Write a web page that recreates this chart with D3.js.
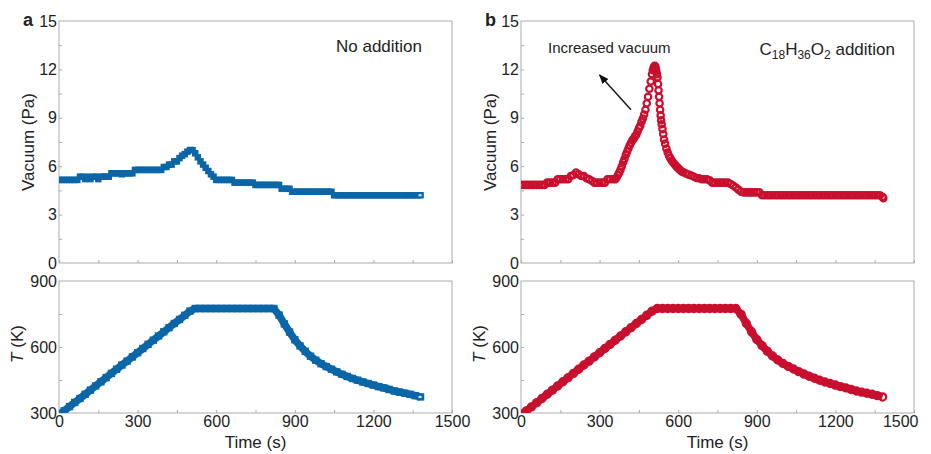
<!DOCTYPE html>
<html><head><meta charset="utf-8">
<script src="https://cdn.jsdelivr.net/npm/d3@7"></script>
<style>body{margin:0;background:#fff} text{font-family:Arial,"Liberation Sans",sans-serif;fill:#222}</style>
</head><body><svg id="c" width="931" height="454"></svg>
<script>
// ---- data ----
const vacTimeA = [0,10,20,30,40,50,60,70,80,90,100,110,120,130,140,150,160,170,180,190,200,210,220,230,240,250,260,270,280,290,300,310,320,330,340,350,360,370,380,390,400,410,420,430,440,450,460,470,480,490,500,510,520,530,540,550,560,570,580,590,600,610,620,630,640,650,660,670,680,690,700,710,720,730,740,750,760,770,780,790,800,810,820,830,840,850,860,870,880,890,900,910,920,930,940,950,960,970,980,990,1000,1010,1020,1030,1040,1050,1060,1070,1080,1090,1100,1110,1120,1130,1140,1150,1160,1170,1180,1190,1200,1210,1220,1230,1240,1250,1260,1270,1280,1290,1300,1310,1320,1330,1340,1350,1360,1370,1380];
const vacA = [5.15,5.15,5.15,5.15,5.15,5.15,5.15,5.15,
  5.35,5.35,5.2,5.35,5.2,5.35,5.35,5.2,5.35,5.35,5.35,5.35,
  5.56,5.56,5.56,5.56,5.5,5.56,5.56,5.56,5.56,
  5.77,5.77,5.77,5.77,5.77,5.77,5.77,5.77,5.77,5.77,5.77,
  5.95,5.95,6.1,6.1,6.3,6.3,6.5,6.65,6.75,6.9,7.0,7.0,6.8,6.55,6.3,6.1,5.9,5.7,5.5,5.35,
  5.15,5.15,5.15,5.15,5.15,5.15,5.15,
  4.98,4.98,4.98,4.98,4.98,4.98,4.98,4.98,
  4.84,4.84,4.84,4.84,4.84,4.84,4.84,4.84,4.84,4.84,
  4.6,4.6,4.6,4.6,
  4.42,4.42,4.42,4.42,4.42,4.42,4.42,4.42,4.42,4.42,4.42,4.42,4.42,4.42,4.42,4.42,
  4.2,4.2,4.2,4.2,4.2,4.2,4.2,4.2,4.2,4.2,4.2,4.2,4.2,4.2,4.2,4.2,4.2,4.2,4.2,4.2,4.2,4.2,4.2,4.2,4.2,4.2,4.2,4.2,4.2,4.2,4.2,4.2,4.2,4.2];

const vacTimeB = [0,10,20,30,40,50,60,70,80,90,100,110,120,130,140,150,160,170,180,190,200,210,220,230,240,250,260,270,280,290,300,310,320,330,340,350,
  360,365,370,375,380,385,390,395,400,405,410,415,420,425,430,435,440,445,450,455,460,465,470,475,480,485,490,495,
  500,503,506,509,511,513,515,517,519,521,523,525,527,529,531,533,535,537,540,543,546,550,555,560,565,570,575,580,585,590,595,600,605,610,615,620,
  630,640,650,660,670,680,690,700,710,720,730,740,750,760,770,780,790,800,810,820,830,840,850,860,870,880,890,900,910,920,930,940,950,960,970,980,990,1000,1010,1020,1030,1040,1050,1060,1070,1080,1090,1100,1110,1120,1130,1140,1150,1160,1170,1180,1190,1200,1210,1220,1230,1240,1250,1260,1270,1280,1290,1300,1310,1320,1330,1340,1350,1360,1370,1380,1383];
const vacB = [4.84,4.84,4.84,4.84,4.84,4.84,4.84,4.84,4.84,4.84,
  4.98,4.98,4.98,4.98,
  5.19,5.19,5.19,5.19,5.19,
  5.39,5.45,5.6,5.5,5.39,5.39,5.25,5.19,5.1,
  4.98,4.98,4.98,4.98,4.98,
  5.19,5.19,5.19,
  5.19,5.3,5.45,5.6,5.8,6.0,6.25,6.45,6.7,6.9,7.1,7.3,7.45,7.6,7.7,7.85,7.95,8.15,8.35,8.5,8.75,8.95,9.2,9.5,9.9,10.3,10.8,11.25,
  11.7,11.95,12.1,12.2,12.22,12.15,12.0,11.85,11.7,11.5,11.1,10.7,10.3,9.9,9.5,9.15,8.85,8.6,8.3,8.0,7.65,7.4,7.1,6.85,6.65,6.5,6.35,6.25,6.15,6.05,5.95,5.88,5.8,5.72,5.66,5.62,
  5.55,5.48,5.42,5.35,5.27,5.25,5.19,5.19,5.19,5.12,
  4.98,4.98,4.98,4.98,4.98,4.98,4.98,
  4.9,4.8,4.68,4.55,4.42,
  4.38,4.38,4.38,4.38,4.38,4.38,4.38,
  4.2,4.2,4.2,4.2,4.2,4.2,4.2,4.2,4.2,4.2,4.2,4.2,4.2,4.2,4.2,4.2,4.2,4.2,4.2,4.2,4.2,4.2,4.2,4.2,4.2,4.2,4.2,4.2,4.2,4.2,4.2,4.2,4.2,4.2,4.2,4.2,4.2,4.2,4.2,4.2,4.2,4.2,4.2,4.2,4.2,4.2,
  4.1,4.02];

const tempTime = [0,20,40,60,80,100,120,140,160,180,200,220,240,260,280,300,320,340,360,380,400,420,440,460,480,500,520,540,560,580,600,620,640,660,680,700,720,740,760,780,800,820,840,860,880,900,920,940,960,980,1000,1020,1040,1060,1080,1100,1120,1140,1160,1180,1200,1220,1240,1260,1280,1300,1320,1340,1360,1380];
const tempA = [295,310,329,348,366,385,404,423,442,461,480,499,518,536,555,574,593,612,631,650,669,688,707,725,744,763,775,
  775,775,775,775,775,775,775,775,775,775,775,775,775,775,775,
  745,705,668,633,605,580,558,540,524,511,499,487,476,466,457,449,441,434,427,420,414,407,400,395,390,385,379,373];
const tempB = [294,309,328,347,366,385,404,423,442,461,480,499,518,536,555,574,593,612,631,650,669,688,707,725,744,763,775,
  775,775,775,775,775,775,775,775,775,775,775,775,775,775,775,
  748,707,669,634,606,581,559,541,525,512,500,488,477,467,458,449,441,434,427,420,414,407,400,395,390,385,379,373];

const timeTicks = [0,300,600,900,1200,1500];
const timeMinor = [0,150,300,450,600,750,900,1050,1200,1350,1500];
const vacTicks = [0,3,6,9,12,15];
const vacMinor = [1.5,3,4.5,6,7.5,9,10.5,12,13.5];
const tempTicks = [300,600,900];
const tempMinor = [450,600,750];
const arrowFrom = [420, 9.5], arrowTo = [300, 11.65];

// ---- drawing ----
const svg = d3.select("#c");
const TOP = [21, 263], BOT = [281, 413];
const FRAME = "#ababab";
const FONT = "Arial, 'Liberation Sans', sans-serif";
const panels = [
  {id:"a", x0:59, x1:452, vt:vacTimeA, vv:vacA, tv:tempA, color:"#0b66a7", shape:"square"},
  {id:"b", x0:521, x1:914, vt:vacTimeB, vv:vacB, tv:tempB, color:"#c8102e", shape:"circle"}
];

panels.forEach((p, i) => {
  const x = d3.scaleLinear().domain([0,1500]).range([p.x0, p.x1]);
  const yV = d3.scaleLinear().domain([0,15]).range([TOP[1], TOP[0]]);
  const yT = d3.scaleLinear().domain([300,900]).range([BOT[1], BOT[0]]);
  const g = svg.append("g");
  const defs = svg.append("defs");
  [["top",yV,TOP],["bot",yT,BOT]].forEach(([nm, y, Y]) => {
    defs.append("clipPath").attr("id", `clip-${p.id}-${nm}`).append("rect")
      .attr("x", p.x0).attr("y", Y[0]).attr("width", p.x1 - p.x0).attr("height", Y[1] - Y[0]);
    g.append("rect").attr("x", p.x0).attr("y", Y[0]).attr("width", p.x1 - p.x0).attr("height", Y[1] - Y[0])
      .attr("fill", "none").attr("stroke", FRAME).attr("stroke-width", 1);
    const bt = g.append("g").attr("transform", `translate(0,${Y[1]})`)
      .call(d3.axisBottom(x).tickValues(timeMinor).tickSize(-3).tickFormat(""));
    bt.select(".domain").remove();
    bt.selectAll("line").attr("stroke", FRAME);
    const lt = g.append("g").attr("transform", `translate(${p.x0},0)`)
      .call(d3.axisLeft(y).tickValues(nm === "top" ? vacMinor : tempMinor).tickSize(-3).tickFormat(""));
    lt.select(".domain").remove();
    lt.selectAll("line").attr("stroke", FRAME);
    const yl = g.append("g").attr("transform", `translate(${p.x0},0)`)
      .call(d3.axisLeft(y).tickValues(nm === "top" ? vacTicks : tempTicks).tickSize(0).tickPadding(2).tickFormat(d3.format("d")));
    yl.select(".domain").remove();
    yl.selectAll("text").attr("font-size", 16).attr("font-family", FONT).attr("fill", "#222");
  });
  const xl = g.append("g").attr("transform", `translate(0,${BOT[1]})`)
    .call(d3.axisBottom(x).tickValues(timeTicks).tickSize(0).tickPadding(3).tickFormat(d3.format("d")));
  xl.select(".domain").remove();
  xl.selectAll("text").attr("font-size", 16).attr("font-family", FONT).attr("fill", "#222");
  if (i === 1) {
    xl.selectAll("text").filter(d => d === 1500).attr("text-anchor", "end").attr("dx", 4);
  }

  g.append("text").attr("transform", `translate(${p.x0 - 25},${(TOP[0]+TOP[1])/2}) rotate(-90)`)
    .attr("text-anchor", "middle").attr("font-size", 17).text("Vacuum (Pa)");
  const tk = g.append("text").attr("transform", `translate(${p.x0 - 36},${(BOT[0]+BOT[1])/2 - 3}) rotate(-90)`)
    .attr("text-anchor", "middle").attr("font-size", 17);
  tk.append("tspan").attr("font-style", "italic").text("T");
  tk.append("tspan").text(" (K)");
  g.append("text").attr("x", (p.x0 + p.x1)/2).attr("y", 448).attr("text-anchor", "middle")
    .attr("font-size", 17).text("Time (s)");
  g.append("text").attr("x", p.x0 - 36).attr("y", 26).attr("font-size", 18).attr("font-weight", "bold")
    .attr("fill", "#000").text(p.id);

  const vacPts = p.vt.map((t, k) => [t, p.vv[k]]);
  const tmpPts = tempTime.map((t, k) => [t, p.tv[k]]);
  const gv = g.append("g").attr("clip-path", `url(#clip-${p.id}-top)`);
  const gt = g.append("g").attr("clip-path", `url(#clip-${p.id}-bot)`);
  gt.append("path").datum(tmpPts)
    .attr("d", d3.line().x(d => x(d[0])).y(d => yT(d[1])))
    .attr("fill", "none").attr("stroke", p.color).attr("stroke-width", 7.5).attr("stroke-linejoin", "round");
  if (p.shape === "square") {
    const s = 6.5;
    gv.selectAll("rect").data(vacPts).join("rect")
      .attr("x", d => x(d[0]) - s/2).attr("y", d => yV(d[1]) - s/2).attr("width", s).attr("height", s)
      .attr("fill", p.color);
    gt.selectAll("rect").data(tmpPts).join("rect")
      .attr("x", d => x(d[0]) - 3.7).attr("y", d => yT(d[1]) - 3.7).attr("width", 7.4).attr("height", 7.4)
      .attr("fill", p.color);
    [[vacPts[vacPts.length-1], yV, gv],[tmpPts[tmpPts.length-1], yT, gt]].forEach(([d, y, gg]) => {
      gg.append("rect").attr("x", x(d[0]) - 2).attr("y", y(d[1]) - 1).attr("width", 3).attr("height", 2).attr("fill", "#dcecf7");
    });
  } else {
    gv.selectAll("circle").data(vacPts).join("circle")
      .attr("cx", d => x(d[0])).attr("cy", d => yV(d[1])).attr("r", 3.2)
      .attr("fill", "none").attr("stroke", p.color).attr("stroke-width", 2.2);
    gt.selectAll("circle").data(tmpPts).join("circle")
      .attr("cx", d => x(d[0])).attr("cy", d => yT(d[1])).attr("r", 3.6)
      .attr("fill", "none").attr("stroke", p.color).attr("stroke-width", 2.2);
  }

  if (i === 0) {
    g.append("text").attr("x", p.x1 - 30).attr("y", 52).attr("text-anchor", "end").attr("font-size", 17).text("No addition");
  } else {
    const t = g.append("text").attr("x", p.x1 - 19).attr("y", 55).attr("text-anchor", "end").attr("font-size", 17);
    t.append("tspan").text("C");
    t.append("tspan").attr("dy", 4).attr("font-size", 12).text("18");
    t.append("tspan").attr("dy", -4).text("H");
    t.append("tspan").attr("dy", 4).attr("font-size", 12).text("36");
    t.append("tspan").attr("dy", -4).text("O");
    t.append("tspan").attr("dy", 4).attr("font-size", 12).text("2");
    t.append("tspan").attr("dy", -4).text(" addition");
    g.append("text").attr("x", p.x0 + 27).attr("y", 53).attr("font-size", 15).text("Increased vacuum");
    defs.append("marker").attr("id", "ah").attr("viewBox", "0 0 10 10").attr("refX", 9).attr("refY", 5)
      .attr("markerWidth", 7).attr("markerHeight", 7).attr("orient", "auto")
      .append("path").attr("d", "M0,1 L10,5 L0,9 Z").attr("fill", "#111");
    g.append("line").attr("x1", x(arrowFrom[0])).attr("y1", yV(arrowFrom[1]))
      .attr("x2", x(arrowTo[0])).attr("y2", yV(arrowTo[1]))
      .attr("stroke", "#111").attr("stroke-width", 1.4).attr("marker-end", "url(#ah)");
  }
});
</script></body></html>
